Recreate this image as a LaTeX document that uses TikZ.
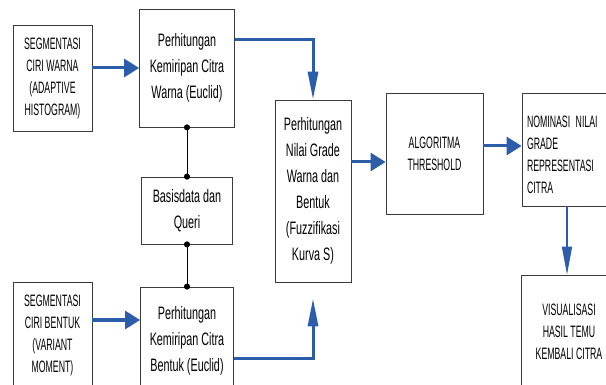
\documentclass[tikz,border=0pt]{standalone}
\usepackage{fontspec}
\setmainfont{Liberation Sans}[FakeStretch=0.6]
\newfontfamily\capsfont{Liberation Sans}[FakeStretch=0.53]
\usetikzlibrary{arrows.meta,positioning}
\definecolor{flowBlue}{HTML}{2B5DA8}
\definecolor{flowEdge}{HTML}{3A3A3A}

\begin{document}
\begin{tikzpicture}[x=1pt,y=-1pt,
  box/.style={draw=flowEdge,line width=.8pt,inner sep=2pt,align=center},
  caps/.style={box,font=\capsfont\fontsize{16.5}{22}\selectfont},
  mixed/.style={box,font=\fontsize{18}{26}\selectfont},
  hflow/.style={-{Triangle[length=15pt,width=18pt]},draw=flowBlue,line width=3pt},
  vflow/.style={-{Triangle[length=28pt,width=10pt]},draw=flowBlue,line width=3pt},
  link/.style={{Circle[length=6pt]}-{Circle[length=6pt]},shorten <=-3pt,shorten >=-3pt,line width=.8pt}]
\clip (0,0) rectangle (606,385);
\useasboundingbox (0,0) rectangle (606,385);
% left column
\node[caps,minimum width=79pt,minimum height=106pt] (segWarna) at (52.5,78) {SEGMENTASI\\CIRI WARNA\\(ADAPTIVE\\HISTOGRAM)};
\node[caps,minimum width=79pt,minimum height=106pt] (segBentuk) at (52.5,335) {SEGMENTASI\\CIRI BENTUK\\(VARIANT\\MOMENT)};
% similarity and database
\node[mixed,minimum width=95pt,minimum height=118pt] (hitWarna) at (187,68) {Perhitungan\\Kemiripan Citra\\Warna (Euclid)};
\node[mixed,minimum width=91pt,minimum height=67pt] (basisData) at (187,210.5) {Basisdata dan\\Queri};
\node[mixed,minimum width=93pt,minimum height=108pt] (hitBentuk) at (187,341) {Perhitungan\\Kemiripan Citra\\Bentuk (Euclid)};
% grading and output
\node[mixed,minimum width=76pt,minimum height=182pt] (nilaiGrade) at (313,191) {Perhitungan\\Nilai Grade\\Warna dan\\Bentuk\\(Fuzzifikasi\\Kurva S)};
\node[caps,minimum width=97pt,minimum height=121pt] (threshold) at (434.5,153.5) {ALGORITMA\\THRESHOLD};
\node[caps,align=left,text width=90pt,inner xsep=5pt,minimum height=113pt] (nominasi) at (572,149.5) {\mbox{}\\NOMINASI NILAI\\GRADE\\REPRESENTASI\\CITRA};
\node[caps,minimum width=96pt,minimum height=114pt] (visual) at (569,332) {VISUALISASI\\HASIL TEMU\\KEMBALI CITRA};

\draw[hflow] (segWarna.east |- hitWarna.west) -- (hitWarna.west);
\draw[hflow] ([yshift=15pt]segBentuk.east) -- ([yshift=15pt]segBentuk.east -| hitBentuk.west);
\draw[vflow] ([yshift=28pt]hitWarna.east) -| (nilaiGrade.north);
\draw[vflow] ([yshift=-17pt]hitBentuk.east) -| ([yshift=-16pt]nilaiGrade.south);
\draw[hflow] ([yshift=29pt]nilaiGrade.east) -- ([yshift=29pt]nilaiGrade.east -| threshold.west);
\draw[hflow] ([yshift=7.5pt]threshold.east) -- ([yshift=7.5pt]threshold.east -| nominasi.west);
\draw[vflow,line width=1.5pt] ([xshift=-5pt]nominasi.south) -- ([xshift=-5pt]nominasi.south |- visual.north);
\draw[link] (hitWarna.south) -- (basisData.north);
\draw[link] (basisData.south) -- (hitBentuk.north);
\end{tikzpicture}
\end{document}
